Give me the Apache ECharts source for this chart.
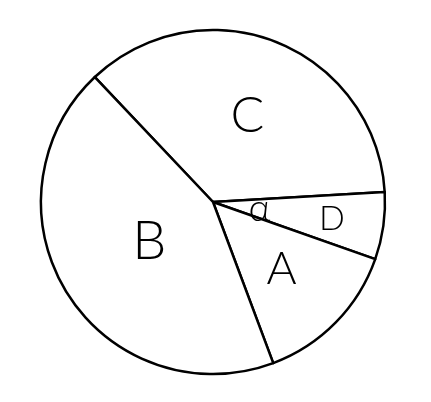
<!DOCTYPE html>
<html><head><meta charset="utf-8">
<script src="https://cdn.jsdelivr.net/npm/echarts@6/dist/echarts.min.js"></script>
<style>html,body{margin:0;padding:0;background:#fff}#c{width:431px;height:402px}</style>
</head><body><div id="c"></div>
<script>
// slices in clockwise order starting at the C/B boundary (angles in degrees)
const categories = ['C', 'D', 'A', 'B'];
const values = [130.1, 22.7, 50.1, 157.1];
const angleLabel = 'α';

const chart = echarts.init(document.getElementById('c'), null, {renderer: 'canvas'});
const center = [213, 202];
const startAngle = 133.4;
const baseData = categories.map((c, i) => ({name: c, value: values[i]}));

function labelSeries(target, text, outer, size) {
  return {
    type: 'pie', silent: true, center: center, radius: [0, outer],
    startAngle: startAngle, clockwise: true, animation: false, z: 5,
    itemStyle: {color: 'rgba(0,0,0,0)', borderWidth: 0},
    labelLine: {show: false},
    data: baseData.map(d => ({
      name: d.name, value: d.value,
      label: {show: d.name === target, position: 'inside', formatter: text,
        color: '#000', fontSize: size, fontFamily: 'Lato', fontWeight: 300}
    }))
  };
}

chart.setOption({
  backgroundColor: '#fff',
  animation: false,
  series: [
    {
      type: 'pie', silent: true, center: center, radius: [0, 172],
      startAngle: startAngle, clockwise: true, animation: false,
      itemStyle: {color: '#fff', borderColor: '#000', borderWidth: 2.5},
      label: {show: false}, labelLine: {show: false},
      data: baseData
    },
    labelSeries('C', 'C', 180, 50),
    labelSeries('B', 'B', 144, 54),
    labelSeries('A', 'A', 186, 46),
    labelSeries('D', 'D', 234, 34),
    labelSeries('D', angleLabel, 88, 38)
  ]
});
</script></body></html>
